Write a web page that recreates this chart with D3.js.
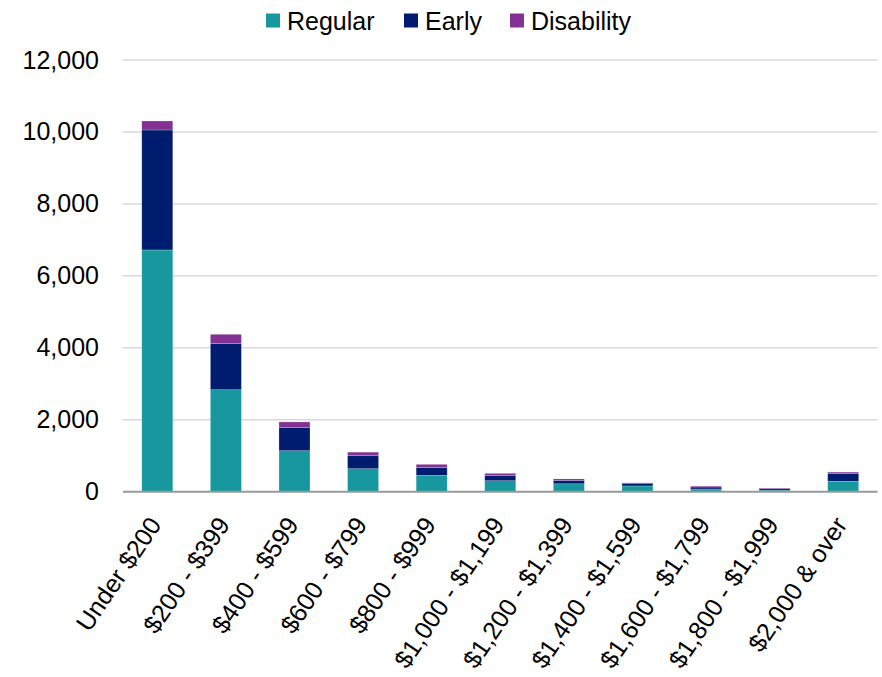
<!DOCTYPE html>
<html>
<head>
<meta charset="utf-8">
<script src="https://cdn.jsdelivr.net/npm/d3@7"></script>
<style>
  html, body { margin: 0; padding: 0; background: #fff; }
  text { font-family: "Liberation Sans", Arial, sans-serif; fill: #000; }
</style>
</head>
<body>
<svg id="chart" width="882" height="677"></svg>
<script>
// Benefit amount brackets
const categories = [
  "Under $200", "$200 - $399", "$400 - $599", "$600 - $799", "$800 - $999",
  "$1,000 - $1,199", "$1,200 - $1,399", "$1,400 - $1,599", "$1,600 - $1,799",
  "$1,800 - $1,999", "$2,000 & over"
];
// Counts by benefit type
const regular    = [6720, 2835, 1140, 640, 455, 305, 220, 160, 75, 45, 290];
const early      = [3335, 1280, 640, 360, 215, 140, 95, 75, 55, 40, 220];
const disability = [250, 260, 160, 100, 90, 65, 40, 10, 25, 15, 35];

const seriesNames = ["Regular", "Early", "Disability"];
const colors = ["#17989e", "#001c6e", "#833294"];
const yTicks = [0, 2000, 4000, 6000, 8000, 10000, 12000];

const rows = categories.map((c, i) => ({
  cat: c, Regular: regular[i], Early: early[i], Disability: disability[i]
}));

const svg = d3.select("#chart");
const margin = { left: 123, right: 4.5, top: 60, bottom: 185.3 };
const W = 882, H = 677;
const FONT = "25px";

const x = d3.scaleBand()
  .domain(categories)
  .range([margin.left, W - margin.right])
  .paddingInner(0.548)
  .paddingOuter(0.274);

const y = d3.scaleLinear()
  .domain([0, 12000])
  .range([H - margin.bottom, margin.top]);

// Gridlines
svg.append("g")
  .selectAll("line")
  .data(yTicks.filter(d => d > 0))
  .join("line")
  .attr("x1", margin.left)
  .attr("x2", W - margin.right)
  .attr("y1", d => y(d))
  .attr("y2", d => y(d))
  .attr("stroke", "#d9d9d9")
  .attr("stroke-width", 1.5);

// Y axis labels
const yAxis = d3.axisLeft(y)
  .tickValues(yTicks)
  .tickFormat(d3.format(","))
  .tickSize(0)
  .tickPadding(24);
const gy = svg.append("g")
  .attr("transform", `translate(${margin.left},0)`)
  .call(yAxis);
gy.select(".domain").remove();
gy.selectAll("text")
  .style("font-size", FONT)
  .attr("fill", "#000");

// Stacked bars
const stack = d3.stack().keys(seriesNames);
const stacked = stack(rows);

svg.append("g")
  .selectAll("g")
  .data(stacked)
  .join("g")
  .attr("fill", (d, i) => colors[i])
  .selectAll("rect")
  .data(d => d)
  .join("rect")
  .attr("x", d => x(d.data.cat))
  .attr("width", x.bandwidth())
  .attr("y", d => y(d[1]))
  .attr("height", d => y(d[0]) - y(d[1]))
  .attr("stroke", "rgba(255,255,255,0.35)")
  .attr("stroke-width", 0.6);

// X axis
const xAxis = d3.axisBottom(x).tickSize(0).tickPadding(0);
const gx = svg.append("g")
  .attr("transform", `translate(0,${y(0)})`)
  .call(xAxis);
gx.select(".domain")
  .attr("stroke", "#999")
  .attr("stroke-width", 2)
  .attr("d", `M${margin.left},0H${W - margin.right}`);
gx.selectAll("text")
  .style("font-size", FONT)
  .attr("fill", "#000")
  .attr("text-anchor", "end")
  .attr("dy", null)
  .attr("y", 0)
  .attr("transform", "translate(5,33) rotate(-56)");

// Legend
const legend = svg.append("g").attr("class", "legend");
const legendX = [266, 404, 510];
seriesNames.forEach((name, i) => {
  const g = legend.append("g").attr("transform", `translate(${legendX[i]},0)`);
  g.append("rect")
    .attr("x", 0).attr("y", 13.5)
    .attr("width", 14).attr("height", 14)
    .attr("fill", colors[i]);
  g.append("text")
    .attr("x", 21).attr("y", 30)
    .style("font-size", FONT)
    .text(name);
});
</script>
</body>
</html>
